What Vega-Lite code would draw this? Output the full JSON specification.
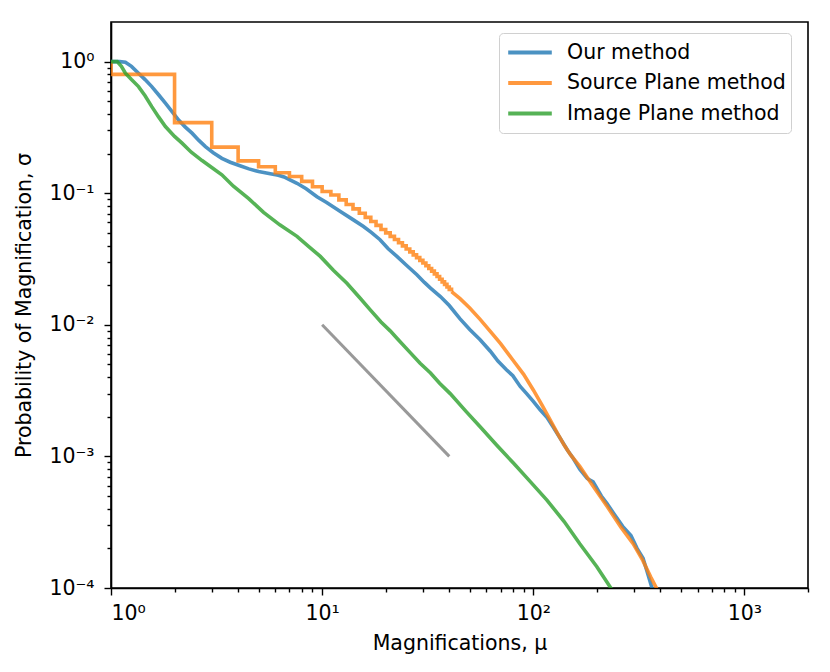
{
  "$schema": "https://vega.github.io/schema/vega-lite/v6.json",
  "autosize": "none",
  "width": 697,
  "height": 566,
  "padding": {"left": 111, "top": 22, "right": 22, "bottom": 84},
  "background": "white",
  "datasets": {
    "blue": [
      {"series": "Our method", "x": 1, "y": 1},
      {"series": "Our method", "x": 1.1, "y": 1},
      {"series": "Our method", "x": 1.17, "y": 0.99},
      {"series": "Our method", "x": 1.25, "y": 0.92},
      {"series": "Our method", "x": 1.35, "y": 0.816},
      {"series": "Our method", "x": 1.45, "y": 0.73},
      {"series": "Our method", "x": 1.56, "y": 0.646},
      {"series": "Our method", "x": 1.68, "y": 0.56},
      {"series": "Our method", "x": 1.81, "y": 0.483},
      {"series": "Our method", "x": 1.95, "y": 0.415},
      {"series": "Our method", "x": 2.09, "y": 0.36},
      {"series": "Our method", "x": 2.25, "y": 0.318},
      {"series": "Our method", "x": 2.42, "y": 0.286},
      {"series": "Our method", "x": 2.6, "y": 0.253},
      {"series": "Our method", "x": 2.8, "y": 0.226},
      {"series": "Our method", "x": 3.05, "y": 0.203},
      {"series": "Our method", "x": 3.35, "y": 0.184},
      {"series": "Our method", "x": 3.67, "y": 0.172},
      {"series": "Our method", "x": 4.02, "y": 0.163},
      {"series": "Our method", "x": 4.5, "y": 0.153},
      {"series": "Our method", "x": 5.0, "y": 0.146},
      {"series": "Our method", "x": 5.6, "y": 0.141},
      {"series": "Our method", "x": 6.2, "y": 0.137},
      {"series": "Our method", "x": 6.6, "y": 0.133},
      {"series": "Our method", "x": 7.0, "y": 0.127},
      {"series": "Our method", "x": 7.6, "y": 0.119},
      {"series": "Our method", "x": 8.4, "y": 0.108},
      {"series": "Our method", "x": 9.45, "y": 0.094},
      {"series": "Our method", "x": 10.5, "y": 0.085},
      {"series": "Our method", "x": 12.2, "y": 0.0725},
      {"series": "Our method", "x": 14, "y": 0.063},
      {"series": "Our method", "x": 15.7, "y": 0.0558},
      {"series": "Our method", "x": 17.2, "y": 0.05},
      {"series": "Our method", "x": 18.8, "y": 0.0443},
      {"series": "Our method", "x": 20.5, "y": 0.038},
      {"series": "Our method", "x": 22.6, "y": 0.0331},
      {"series": "Our method", "x": 25, "y": 0.0285},
      {"series": "Our method", "x": 28.1, "y": 0.024},
      {"series": "Our method", "x": 30.5, "y": 0.021},
      {"series": "Our method", "x": 32.6, "y": 0.019},
      {"series": "Our method", "x": 36.3, "y": 0.0164},
      {"series": "Our method", "x": 40, "y": 0.014},
      {"series": "Our method", "x": 45, "y": 0.0111},
      {"series": "Our method", "x": 50, "y": 0.0092},
      {"series": "Our method", "x": 56, "y": 0.0077},
      {"series": "Our method", "x": 62.6, "y": 0.0063},
      {"series": "Our method", "x": 68, "y": 0.0053},
      {"series": "Our method", "x": 74.8, "y": 0.00454},
      {"series": "Our method", "x": 80, "y": 0.0041},
      {"series": "Our method", "x": 86.7, "y": 0.0034},
      {"series": "Our method", "x": 93, "y": 0.003},
      {"series": "Our method", "x": 100, "y": 0.00262},
      {"series": "Our method", "x": 108, "y": 0.00225},
      {"series": "Our method", "x": 116, "y": 0.00198},
      {"series": "Our method", "x": 124, "y": 0.00168},
      {"series": "Our method", "x": 135, "y": 0.00135},
      {"series": "Our method", "x": 145, "y": 0.00112},
      {"series": "Our method", "x": 155, "y": 0.00096},
      {"series": "Our method", "x": 166, "y": 0.0008},
      {"series": "Our method", "x": 180, "y": 0.00068},
      {"series": "Our method", "x": 192, "y": 0.00064},
      {"series": "Our method", "x": 210, "y": 0.0005},
      {"series": "Our method", "x": 223, "y": 0.00044},
      {"series": "Our method", "x": 240, "y": 0.00037},
      {"series": "Our method", "x": 265, "y": 0.000294},
      {"series": "Our method", "x": 290, "y": 0.00025},
      {"series": "Our method", "x": 310, "y": 0.0002},
      {"series": "Our method", "x": 331, "y": 0.000168},
      {"series": "Our method", "x": 345, "y": 0.000135},
      {"series": "Our method", "x": 365, "y": 0.0001},
      {"series": "Our method", "x": 385, "y": 0.00008}
    ],
    "orangeStep": [
      {"series": "Source Plane method", "x": 1, "y": 1},
      {"series": "Source Plane method", "x": 1, "y": 0.8},
      {"series": "Source Plane method", "x": 2, "y": 0.344},
      {"series": "Source Plane method", "x": 3, "y": 0.224},
      {"series": "Source Plane method", "x": 4, "y": 0.176},
      {"series": "Source Plane method", "x": 5, "y": 0.159},
      {"series": "Source Plane method", "x": 6, "y": 0.143},
      {"series": "Source Plane method", "x": 7, "y": 0.134},
      {"series": "Source Plane method", "x": 8, "y": 0.123},
      {"series": "Source Plane method", "x": 9, "y": 0.112},
      {"series": "Source Plane method", "x": 10, "y": 0.103},
      {"series": "Source Plane method", "x": 11, "y": 0.097},
      {"series": "Source Plane method", "x": 12, "y": 0.089},
      {"series": "Source Plane method", "x": 13, "y": 0.082},
      {"series": "Source Plane method", "x": 14, "y": 0.076},
      {"series": "Source Plane method", "x": 15, "y": 0.0705},
      {"series": "Source Plane method", "x": 16, "y": 0.0655},
      {"series": "Source Plane method", "x": 17, "y": 0.061},
      {"series": "Source Plane method", "x": 18, "y": 0.057},
      {"series": "Source Plane method", "x": 19, "y": 0.053},
      {"series": "Source Plane method", "x": 20, "y": 0.05},
      {"series": "Source Plane method", "x": 21, "y": 0.047},
      {"series": "Source Plane method", "x": 22, "y": 0.0445},
      {"series": "Source Plane method", "x": 23, "y": 0.042},
      {"series": "Source Plane method", "x": 24, "y": 0.0398},
      {"series": "Source Plane method", "x": 25, "y": 0.0377},
      {"series": "Source Plane method", "x": 26, "y": 0.0358},
      {"series": "Source Plane method", "x": 27, "y": 0.034},
      {"series": "Source Plane method", "x": 28, "y": 0.0324},
      {"series": "Source Plane method", "x": 29, "y": 0.0309},
      {"series": "Source Plane method", "x": 30, "y": 0.0295},
      {"series": "Source Plane method", "x": 31, "y": 0.0281},
      {"series": "Source Plane method", "x": 32, "y": 0.0268},
      {"series": "Source Plane method", "x": 33, "y": 0.0256},
      {"series": "Source Plane method", "x": 34, "y": 0.0244},
      {"series": "Source Plane method", "x": 35, "y": 0.0233},
      {"series": "Source Plane method", "x": 36, "y": 0.0222},
      {"series": "Source Plane method", "x": 37, "y": 0.0212},
      {"series": "Source Plane method", "x": 38, "y": 0.0203},
      {"series": "Source Plane method", "x": 39, "y": 0.0194},
      {"series": "Source Plane method", "x": 40, "y": 0.0186},
      {"series": "Source Plane method", "x": 41, "y": 0.0179}
    ],
    "orangeSmooth": [
      {"series": "Source Plane method", "x": 41, "y": 0.0179},
      {"series": "Source Plane method", "x": 45, "y": 0.0158},
      {"series": "Source Plane method", "x": 50, "y": 0.0134},
      {"series": "Source Plane method", "x": 56, "y": 0.011},
      {"series": "Source Plane method", "x": 63, "y": 0.0088},
      {"series": "Source Plane method", "x": 70, "y": 0.0072},
      {"series": "Source Plane method", "x": 80, "y": 0.0054},
      {"series": "Source Plane method", "x": 90, "y": 0.0042},
      {"series": "Source Plane method", "x": 100, "y": 0.0032},
      {"series": "Source Plane method", "x": 110, "y": 0.00245},
      {"series": "Source Plane method", "x": 120, "y": 0.0019},
      {"series": "Source Plane method", "x": 130, "y": 0.0015},
      {"series": "Source Plane method", "x": 140, "y": 0.00122},
      {"series": "Source Plane method", "x": 150, "y": 0.00103},
      {"series": "Source Plane method", "x": 166, "y": 0.00084},
      {"series": "Source Plane method", "x": 190, "y": 0.00061},
      {"series": "Source Plane method", "x": 223, "y": 0.00042},
      {"series": "Source Plane method", "x": 260, "y": 0.00029},
      {"series": "Source Plane method", "x": 297, "y": 0.000217},
      {"series": "Source Plane method", "x": 330, "y": 0.000162},
      {"series": "Source Plane method", "x": 360, "y": 0.000121},
      {"series": "Source Plane method", "x": 383, "y": 0.0001},
      {"series": "Source Plane method", "x": 420, "y": 0.00007}
    ],
    "green": [
      {"series": "Image Plane method", "x": 1, "y": 1},
      {"series": "Image Plane method", "x": 1.07, "y": 1},
      {"series": "Image Plane method", "x": 1.12, "y": 0.92},
      {"series": "Image Plane method", "x": 1.17, "y": 0.816},
      {"series": "Image Plane method", "x": 1.25, "y": 0.73},
      {"series": "Image Plane method", "x": 1.35, "y": 0.646},
      {"series": "Image Plane method", "x": 1.45, "y": 0.55},
      {"series": "Image Plane method", "x": 1.56, "y": 0.455},
      {"series": "Image Plane method", "x": 1.68, "y": 0.38},
      {"series": "Image Plane method", "x": 1.81, "y": 0.321},
      {"series": "Image Plane method", "x": 2.0, "y": 0.27},
      {"series": "Image Plane method", "x": 2.17, "y": 0.24},
      {"series": "Image Plane method", "x": 2.4, "y": 0.205},
      {"series": "Image Plane method", "x": 2.7, "y": 0.177},
      {"series": "Image Plane method", "x": 3.0, "y": 0.157},
      {"series": "Image Plane method", "x": 3.35, "y": 0.138},
      {"series": "Image Plane method", "x": 3.8, "y": 0.113},
      {"series": "Image Plane method", "x": 4.49, "y": 0.091},
      {"series": "Image Plane method", "x": 5.28, "y": 0.0715},
      {"series": "Image Plane method", "x": 6.3, "y": 0.0575},
      {"series": "Image Plane method", "x": 7.6, "y": 0.047},
      {"series": "Image Plane method", "x": 8.7, "y": 0.039},
      {"series": "Image Plane method", "x": 9.8, "y": 0.0331},
      {"series": "Image Plane method", "x": 11.3, "y": 0.026},
      {"series": "Image Plane method", "x": 13.1, "y": 0.0207},
      {"series": "Image Plane method", "x": 15, "y": 0.0162},
      {"series": "Image Plane method", "x": 16.9, "y": 0.013},
      {"series": "Image Plane method", "x": 19, "y": 0.0105},
      {"series": "Image Plane method", "x": 21, "y": 0.009},
      {"series": "Image Plane method", "x": 22.6, "y": 0.0079},
      {"series": "Image Plane method", "x": 26, "y": 0.0062},
      {"series": "Image Plane method", "x": 29.1, "y": 0.0051},
      {"series": "Image Plane method", "x": 32.6, "y": 0.0043},
      {"series": "Image Plane method", "x": 36, "y": 0.0036},
      {"series": "Image Plane method", "x": 40.4, "y": 0.003},
      {"series": "Image Plane method", "x": 48, "y": 0.0022},
      {"series": "Image Plane method", "x": 56, "y": 0.00168},
      {"series": "Image Plane method", "x": 67, "y": 0.00122},
      {"series": "Image Plane method", "x": 80.5, "y": 0.00089},
      {"series": "Image Plane method", "x": 97, "y": 0.00064},
      {"series": "Image Plane method", "x": 116, "y": 0.000465},
      {"series": "Image Plane method", "x": 140, "y": 0.00032},
      {"series": "Image Plane method", "x": 166, "y": 0.000217},
      {"series": "Image Plane method", "x": 200, "y": 0.000145},
      {"series": "Image Plane method", "x": 232, "y": 0.000101},
      {"series": "Image Plane method", "x": 260, "y": 0.000075}
    ],
    "gray": [
      {"x": 10, "y": 0.01},
      {"x": 40, "y": 0.001}
    ]
  },
  "encoding": {
    "x": {
      "field": "x", "type": "quantitative",
      "scale": {"type": "log", "domain": [1, 2000], "nice": false},
      "axis": {
        "title": "Magnifications, μ",
        "values": [1,2,3,4,5,6,7,8,9,10,20,30,40,50,60,70,80,90,100,200,300,400,500,600,700,800,900,1000,2000],
        "labelExpr": "abs(log(datum.value)/LN10 - round(log(datum.value)/LN10)) < 0.001 ? '10' + ['⁰','¹','²','³'][round(log(datum.value)/LN10)] : ''",
        "tickSize": {"condition": {"test": "abs(log(datum.value)/LN10 - round(log(datum.value)/LN10)) < 0.001", "value": 7}, "value": 4},
        "labelPadding": 8,
        "titlePadding": 10
      }
    },
    "y": {
      "field": "y", "type": "quantitative",
      "scale": {"type": "log", "domain": [0.0001, 2], "nice": false},
      "axis": {
        "title": "Probability of Magnification, σ",
        "values": [0.0001,0.0002,0.0003,0.0004,0.0005,0.0006,0.0007,0.0008,0.0009,0.001,0.002,0.003,0.004,0.005,0.006,0.007,0.008,0.009,0.01,0.02,0.03,0.04,0.05,0.06,0.07,0.08,0.09,0.1,0.2,0.3,0.4,0.5,0.6,0.7,0.8,0.9,1],
        "labelExpr": "abs(log(datum.value)/LN10 - round(log(datum.value)/LN10)) < 0.001 ? '10' + ['⁻⁴','⁻³','⁻²','⁻¹','⁰'][round(log(datum.value)/LN10)+4] : ''",
        "tickSize": {"condition": {"test": "abs(log(datum.value)/LN10 - round(log(datum.value)/LN10)) < 0.001", "value": 7}, "value": 4},
        "labelPadding": 10,
        "titlePadding": 14
      }
    },
    "color": {
      "field": "series", "type": "nominal",
      "scale": {"domain": ["Our method", "Source Plane method", "Image Plane method"], "range": ["#1f77b4", "#ff7f0e", "#2ca02c"]},
      "legend": {
        "title": null,
        "orient": "none",
        "legendX": 388,
        "legendY": 11,
        "symbolType": "stroke",
        "symbolSize": 1900,
        "symbolStrokeWidth": 4,
        "symbolOpacity": 0.8,
        "symbolOffset": 2,
        "clipHeight": 29,
        "rowPadding": 1.5,
        "padding": 5,
        "labelOffset": 13,
        "labelFontSize": 20.5,
        "labelFont": "DejaVu Sans",
        "labelColor": "black",
        "labelLimit": 400,
        "strokeColor": "#d0d0d0",
        "fillColor": "white",
        "cornerRadius": 4
      }
    }
  },
  "layer": [
    {"data": {"name": "blue"}, "mark": {"type": "line", "strokeWidth": 3.6, "strokeOpacity": 0.8, "clip": true}},
    {"data": {"name": "orangeStep"}, "mark": {"type": "line", "interpolate": "step-after", "strokeWidth": 3.6, "strokeOpacity": 0.8, "clip": true}},
    {"data": {"name": "orangeSmooth"}, "mark": {"type": "line", "strokeWidth": 3.6, "strokeOpacity": 0.8, "clip": true}},
    {"data": {"name": "green"}, "mark": {"type": "line", "strokeWidth": 3.6, "strokeOpacity": 0.8, "clip": true}},
    {"data": {"name": "gray"}, "mark": {"type": "line", "strokeWidth": 3, "color": "#999999"}, "encoding": {"color": {"value": "#999999"}}}
  ],
  "config": {
    "view": {"stroke": "black", "strokeWidth": 1.6},
    "axis": {
      "grid": false,
      "labelFont": "DejaVu Sans",
      "labelFontSize": 20.5,
      "labelColor": "black",
      "labelOverlap": false,
      "labelBound": false,
      "titleFont": "DejaVu Sans",
      "titleFontSize": 20.5,
      "titleFontWeight": "normal",
      "titleColor": "black",
      "domainColor": "black",
      "domainWidth": 1.6,
      "tickColor": "black",
      "tickWidth": 1.4
    }
  }
}
